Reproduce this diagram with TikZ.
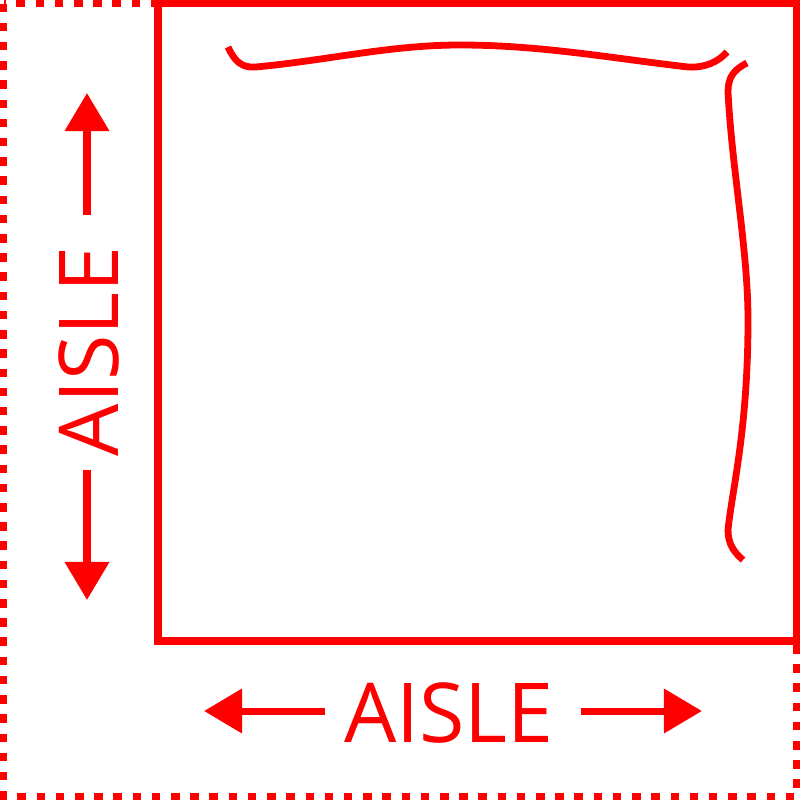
\documentclass[tikz,border=0pt]{standalone}
\usepackage{fontspec}
\setmainfont{Open Sans}
\usetikzlibrary{arrows.meta}
\tikzset{
  wallbox/.style={draw=red, line width=0.075cm},
  borderbox/.style={draw=red, line width=0.075cm, dash pattern=on 0.085cm off 0.107cm},
  shelfline/.style={draw=red, line width=0.068cm, line cap=butt},
  aislearrow/.style={draw=red, line width=0.07cm, -{Triangle[length=0.38cm,width=0.43cm]}},
  aisletext/.style={text=red, inner sep=0pt, font=\fontsize{23.5}{28}\selectfont}
}
\begin{document}
\begin{tikzpicture}[x=0.01cm, y=-0.01cm]
\useasboundingbox (0,0) rectangle (800,800);
% dashed outer border
\draw[borderbox] (3.5,3.5) rectangle (796.5,796.5);
% solid inner rectangle
\draw[wallbox] (158,3.5) rectangle (796.5,641);
% top shelf line
\draw[shelfline] (228,47) .. controls (235,62) and (242,68) .. (256,67)
  .. controls (330,60) and (390,45) .. (460,45)
  .. controls (540,45) and (610,58) .. (688,67)
  .. controls (705,68) and (718,62) .. (727,52);
% right shelf line
\draw[shelfline] (747,63) .. controls (733,70) and (728,78) .. (728,92)
  .. controls (732,170) and (748,250) .. (748,320)
  .. controls (748,430) and (732,490) .. (728,530)
  .. controls (728,545) and (735,553) .. (743,560);
% labels
\node[aisletext, anchor=base] (hlabel) at (449,742) {AISLE};
\node[aisletext, anchor=base, rotate=90] (vlabel) at (118,351.5) {AISLE};
% arrow coordinates
\coordinate (hls) at (325,711);
\coordinate (hle) at (204,711);
\coordinate (hrs) at (581,711);
\coordinate (hre) at (702,711);
\coordinate (vus) at (87,215);
\coordinate (vue) at (87,93);
\coordinate (vds) at (87,470);
\coordinate (vde) at (87,600);
\draw[aislearrow] (hls) -- (hle);
\draw[aislearrow] (hrs) -- (hre);
\draw[aislearrow] (vus) -- (vue);
\draw[aislearrow] (vds) -- (vde);
\end{tikzpicture}
\end{document}
